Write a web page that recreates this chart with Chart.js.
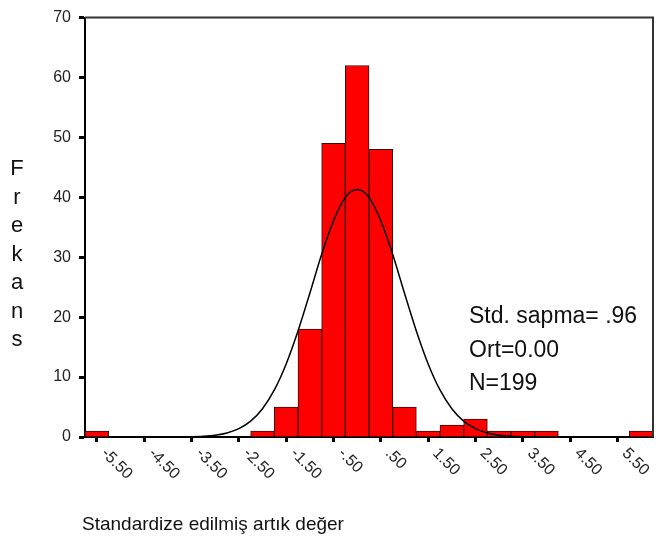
<!DOCTYPE html>
<html><head><meta charset="utf-8">
<script src="https://cdn.jsdelivr.net/npm/chart.js@4/dist/chart.umd.min.js"></script>
<style>html,body{margin:0;padding:0;background:#fff;}canvas{display:block}</style>
</head><body>
<canvas id="c" width="656" height="547"></canvas>
<script>
// ---- data ----
const binMids = [-5.5,-5.0,-4.5,-4.0,-3.5,-3.0,-2.5,-2.0,-1.5,-1.0,-0.5,0.0,0.5,1.0,1.5,2.0,2.5,3.0,3.5,4.0,4.5,5.0,5.5,6.0];
const counts  = [1,0,0,0,0,0,0,1,5,18,49,62,48,5,1,2,3,1,1,1,0,0,0,1];
const xTickVals   = [-5.5,-4.5,-3.5,-2.5,-1.5,-0.5,0.5,1.5,2.5,3.5,4.5,5.5];
const xTickLabels = ['-5.50','-4.50','-3.50','-2.50','-1.50','-.50','.50','1.50','2.50','3.50','4.50','5.50'];
const yTickVals   = [0,10,20,30,40,50,60,70];
// normal curve heights
const curveX = [-4.0,-3.75,-3.5,-3.25,-3.0,-2.75,-2.5,-2.25,-2.0,-1.75,-1.5,-1.25,-1.0,-0.75,-0.5,-0.25,0.0,0.25,0.5,0.75,1.0,1.25,1.5,1.75,2.0,2.25,2.5,2.75,3.0,3.25,3.5,3.75,4.0,4.25,4.5];
const curveY = [0.01,0.02,0.05,0.13,0.31,0.68,1.39,2.65,4.72,7.85,12.2,17.7,24.0,30.5,36.1,40.0,41.3,40.0,36.1,30.5,24.0,17.7,12.2,7.85,4.72,2.65,1.39,0.68,0.31,0.13,0.05,0.02,0.01,0.0,0.0];
const statsLines = ['Std. sapma= .96','Ort=0.00','N=199'];
const xTitle = 'Standardize edilmiş artık değer';
const yTitle = 'Frekans';

const FONT = "'Liberation Sans', Arial, Helvetica, sans-serif";

const textPlugin = {
  id: 'texts',
  afterDraw(chart) {
    const ctx = chart.ctx, a = chart.chartArea, xs = chart.scales.x;
    ctx.save();
    // frame top & right
    ctx.strokeStyle = '#333';
    ctx.lineWidth = 2;
    ctx.beginPath();
    ctx.moveTo(a.left, a.top); ctx.lineTo(a.right, a.top); ctx.lineTo(a.right, a.bottom);
    ctx.stroke();
    // x tick labels, rotated clockwise
    ctx.fillStyle = '#222';
    ctx.font = '16px ' + FONT;
    ctx.textAlign = 'left';
    ctx.textBaseline = 'middle';
    xTickVals.forEach((v, i) => {
      const px = xs.getPixelForValue(v);
      ctx.save();
      ctx.translate(px + 7, a.bottom + 14);
      ctx.rotate(Math.PI / 4);
      ctx.fillText(xTickLabels[i], 0, 0);
      ctx.restore();
    });
    // y title stacked letters
    ctx.fillStyle = '#111';
    ctx.font = '22px ' + FONT;
    ctx.textAlign = 'center';
    ctx.textBaseline = 'middle';
    for (let i = 0; i < yTitle.length; i++) {
      ctx.fillText(yTitle[i], 17, 169 + i * 28.5);
    }
    // x title
    ctx.font = '19px ' + FONT;
    ctx.textAlign = 'left';
    ctx.textBaseline = 'alphabetic';
    ctx.fillText(xTitle, 82, 530);
    // stats
    ctx.font = '23px ' + FONT;
    statsLines.forEach((s, i) => ctx.fillText(s, 469, 323 + i * 33.5));
    ctx.restore();
  }
};

new Chart(document.getElementById('c'), {
  data: {
    datasets: [
      {
        type: 'line',
        data: curveX.map((x, i) => ({x, y: curveY[i]})),
        borderColor: '#000',
        borderWidth: 1.5,
        pointRadius: 0,
        cubicInterpolationMode: 'monotone',
        fill: false,
        order: 0
      },
      {
        type: 'bar',
        data: binMids.map((x, i) => ({x, y: counts[i]})),
        backgroundColor: '#ff0000',
        borderColor: '#3a0d0d',
        borderWidth: 1,
        barPercentage: 1,
        categoryPercentage: 1,
        order: 1
      }
    ]
  },
  options: {
    responsive: false,
    devicePixelRatio: 1,
    animation: false,
    layout: { padding: { top: 13, right: 3, left: 0, bottom: 0 } },
    plugins: { legend: { display: false }, tooltip: { enabled: false } },
    scales: {
      x: {
        type: 'linear',
        offset: false,
        min: -5.75, max: 6.25,
        afterBuildTicks: (s) => { s.ticks = xTickVals.map(v => ({ value: v })); },
        afterFit: (s) => { s.height = 110; },
        ticks: { display: false },
        grid: { display: true, offset: false, drawOnChartArea: false, drawTicks: true, tickLength: 5, tickWidth: 3, tickColor: '#000' },
        border: { display: true, color: '#000', width: 2 }
      },
      y: {
        min: 0, max: 70,
        afterBuildTicks: (s) => { s.ticks = yTickVals.map(v => ({ value: v })); },
        afterFit: (s) => { s.width = 85; },
        ticks: { color: '#222', font: { size: 16, family: FONT }, padding: 8, callback: (v) => String(v) },
        grid: { display: true, drawOnChartArea: false, drawTicks: true, tickLength: 6, tickWidth: 3, tickColor: '#000' },
        border: { display: true, color: '#000', width: 2 }
      }
    }
  },
  plugins: [textPlugin]
});
</script>
</body></html>
